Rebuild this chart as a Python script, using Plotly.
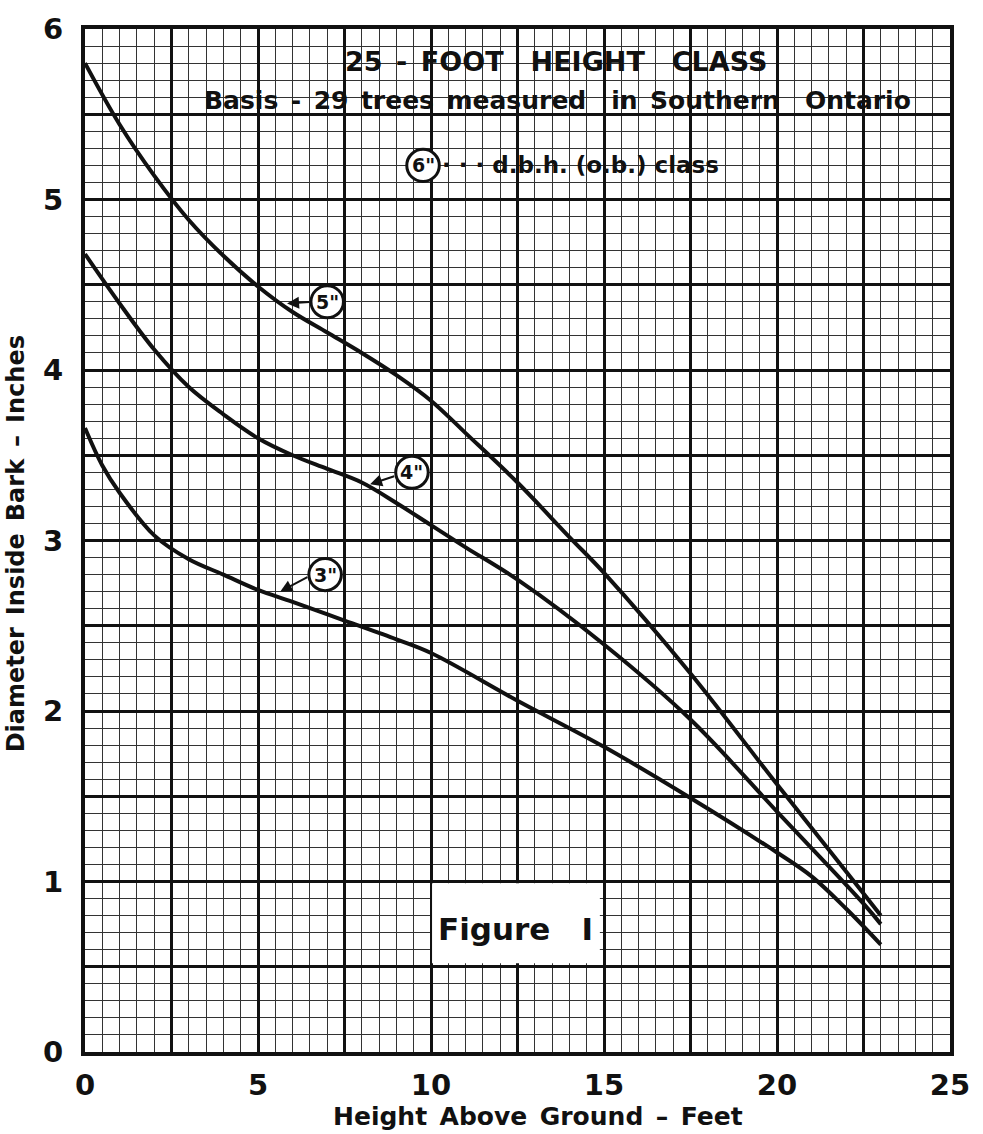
import plotly.graph_objects as go

# ---- data ----
height_5in = [0, 1, 2, 3, 4, 5, 6, 7, 8, 9, 10, 11, 12.5, 14, 15, 17.5, 20, 22.5, 23.0]
dib_5in    = [5.80, 5.44, 5.14, 4.88, 4.67, 4.49, 4.34, 4.22, 4.10, 3.97, 3.82, 3.63, 3.34, 3.02, 2.81, 2.22, 1.57, 0.93, 0.80]

height_4in = [0, 1, 2, 3, 4, 5, 6, 7, 8, 9, 10, 11, 12.5, 15, 17.5, 20, 22.5, 23.0]
dib_4in    = [4.68, 4.39, 4.12, 3.90, 3.74, 3.60, 3.50, 3.42, 3.34, 3.22, 3.09, 2.96, 2.77, 2.39, 1.95, 1.41, 0.87, 0.75]

height_3in = [0, 0.5, 1, 2, 3, 4, 5, 6, 7.5, 9, 10, 12.5, 15, 17.5, 20, 21, 22, 23.0]
dib_3in    = [3.66, 3.44, 3.28, 3.03, 2.89, 2.80, 2.71, 2.64, 2.53, 2.42, 2.34, 2.06, 1.79, 1.49, 1.17, 1.03, 0.84, 0.63]

x_tick_vals = [0, 2.5, 5, 7.5, 10, 12.5, 15, 17.5, 20, 22.5, 25]
x_tick_text = ["0", "", "5", "", "10", "", "15", "", "20", "", "25"]
y_tick_vals = [0, 0.5, 1, 1.5, 2, 2.5, 3, 3.5, 4, 4.5, 5, 5.5, 6]
y_tick_text = ["0", "", "1", "", "2", "", "3", "", "4", "", "5", "", "6"]

# labels: (class label, circle centre x, y, arrow head x, y, arrow tail x, y)
class_labels = ['5"', '4"', '3"']
label_cx = [7.0, 9.45, 6.94]
label_cy = [4.40, 3.40, 2.80]
head_x = [5.84, 8.24, 5.64]
head_y = [4.39, 3.33, 2.70]
tail_x = [6.53, 8.98, 6.47]
tail_y = [4.40, 3.38, 2.79]

FONT = "DejaVu Sans"
INK = "#111111"
SP = "\u2002"

fig = go.Figure()
for xs, ys in [(height_5in, dib_5in), (height_4in, dib_4in), (height_3in, dib_3in)]:
    fig.add_trace(go.Scatter(x=xs, y=ys, mode="lines",
                             line=dict(color=INK, width=4, shape="spline", smoothing=1.0),
                             showlegend=False, hoverinfo="skip"))

# circle radius in data units (approx 16 px)
rx, ry = 0.47, 0.094
shapes = []
annotations = []
for lab, cx, cy, hx, hy, tx, ty in zip(class_labels, label_cx, label_cy, head_x, head_y, tail_x, tail_y):
    shapes.append(dict(type="circle", xref="x", yref="y", x0=cx - rx, x1=cx + rx, y0=cy - ry, y1=cy + ry,
                       line=dict(color=INK, width=3), fillcolor="white", layer="above"))
    annotations.append(dict(x=cx, y=cy, xref="x", yref="y", text="<b>" + lab + "</b>", showarrow=False,
                            font=dict(family=FONT, size=19, color=INK)))
    annotations.append(dict(x=hx, y=hy, ax=tx, ay=ty, xref="x", yref="y", axref="x", ayref="y",
                            text="", showarrow=True, arrowhead=2, arrowsize=1.2, arrowwidth=2,
                            arrowcolor=INK))

# legend circle in title block
shapes.append(dict(type="circle", xref="x", yref="y", x0=9.77 - rx, x1=9.77 + rx, y0=5.20 - ry, y1=5.20 + ry,
                   line=dict(color=INK, width=3), fillcolor="white", layer="above"))
annotations.append(dict(x=9.77, y=5.20, xref="x", yref="y", text='<b>6"</b>', showarrow=False,
                        font=dict(family=FONT, size=19, color=INK)))
annotations.append(dict(x=10.27, y=5.20, xref="x", yref="y", xanchor="left",
                        text="<b>· · · d.b.h. (o.b.) class</b>", showarrow=False,
                        font=dict(family=FONT, size=23, color=INK)))

# title block
annotations.append(dict(x=13.6, y=5.81, xref="x", yref="y",
                        text="<b>25" + SP + "-" + SP + "FOOT" + SP * 2 + "HEIGHT" + SP * 2 + "CLASS</b>",
                        showarrow=False, font=dict(family=FONT, size=27, color=INK)))
annotations.append(dict(x=13.65, y=5.58, xref="x", yref="y",
                        text="<b>Basis" + SP + "-" + SP + "29" + SP + "trees" + SP + "measured" + SP * 2 + "in"
                             + SP + "Southern" + SP * 2 + "Ontario</b>",
                        showarrow=False, font=dict(family=FONT, size=25, color=INK)))

# Figure label with white box
shapes.append(dict(type="rect", xref="x", yref="y", x0=10.03, x1=14.88, y0=0.52, y1=0.99,
                   fillcolor="white", line=dict(width=0), layer="above"))
annotations.append(dict(x=12.45, y=0.72, xref="x", yref="y", text="<b>Figure" + SP * 2 + "I</b>", showarrow=False,
                        font=dict(family=FONT, size=31, color=INK)))

# axis titles
annotations.append(dict(x=0.524, y=-0.063, xref="paper", yref="paper", xanchor="center", yanchor="middle",
                        text="<b>Height" + SP + "Above" + SP + "Ground" + SP + "–" + SP + "Feet</b>",
                        showarrow=False, font=dict(family=FONT, size=25, color=INK)))
annotations.append(dict(x=-0.08, y=0.497, xref="paper", yref="paper", xanchor="center", yanchor="middle",
                        textangle=-90,
                        text="<b>Diameter" + SP + "Inside" + SP + "Bark" + SP + "–" + SP + "Inches</b>",
                        showarrow=False, font=dict(family=FONT, size=24, color=INK)))

fig.update_layout(
    width=983, height=1134,
    margin=dict(l=85, r=33, t=20, b=82),
    paper_bgcolor="white", plot_bgcolor="white",
    shapes=shapes, annotations=annotations,
    font=dict(family=FONT, color=INK),
)
fig.update_xaxes(
    range=[0, 25], tickmode="array", tickvals=x_tick_vals, ticktext=x_tick_text,
    showgrid=True, gridcolor=INK, gridwidth=2.5,
    minor=dict(dtick=0.5, showgrid=True, gridcolor="#333333", gridwidth=1),
    showline=True, linecolor=INK, linewidth=4, mirror=True, zeroline=False,
    ticks="", tickfont=dict(family=FONT, size=29, color=INK, weight="bold"),
    ticklabelstandoff=4,
)
fig.update_yaxes(
    range=[0, 6], tickmode="array", tickvals=y_tick_vals, ticktext=y_tick_text,
    showgrid=True, gridcolor=INK, gridwidth=2.5,
    minor=dict(dtick=0.1, showgrid=True, gridcolor="#333333", gridwidth=1),
    showline=True, linecolor=INK, linewidth=4, mirror=True, zeroline=False,
    ticks="", tickfont=dict(family=FONT, size=29, color=INK, weight="bold"),
    ticklabelstandoff=12,
)

fig.write_html("out.html")
